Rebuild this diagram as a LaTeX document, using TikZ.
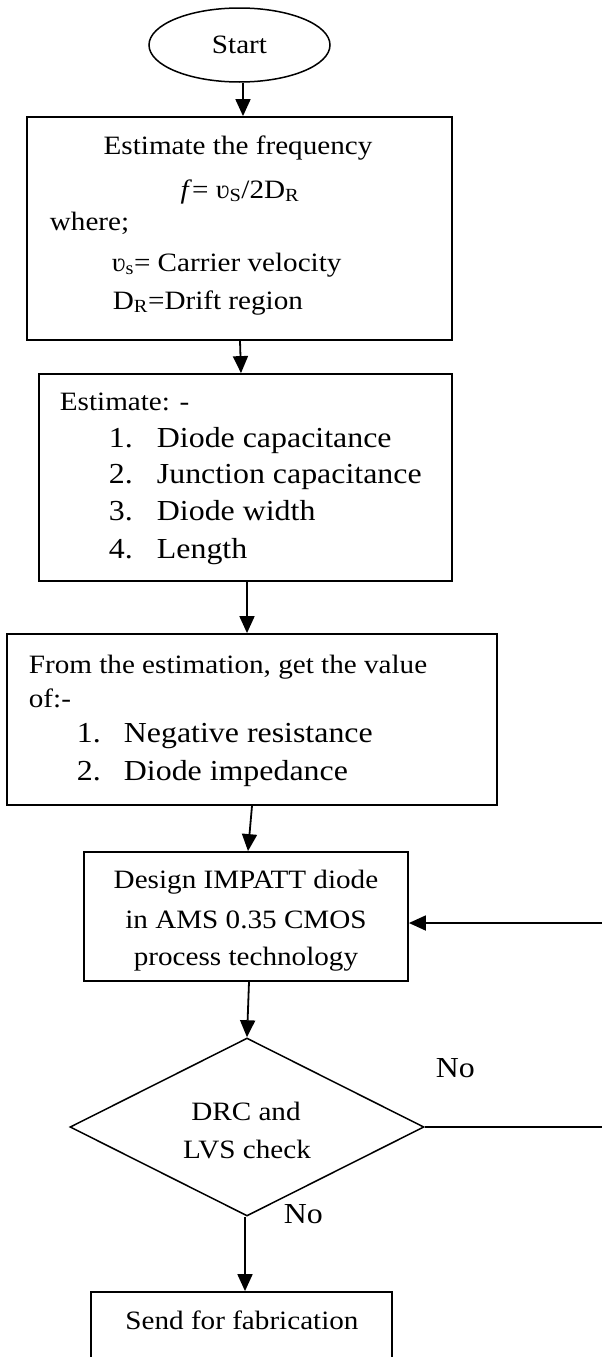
\documentclass[tikz,border=0pt]{standalone}
\usepackage{fontspec}
\setmainfont{Liberation Serif}[FakeStretch=1.10]
\usetikzlibrary{shapes.geometric,arrows.meta}
\newcommand\bodysz{\fontsize{26.5}{31}\selectfont}
\newcommand\listsz{\fontsize{29}{34}\selectfont}

\begin{document}
\begin{tikzpicture}[x=1pt,y=-1pt,
  font=\bodysz,
  line width=1.8pt,
  boxnode/.style={draw, rectangle, inner sep=0pt},
  txt/.style={inner sep=0pt, anchor=base},
  txtl/.style={inner sep=0pt, anchor=base west},
  item/.style={txtl, font=\listsz},
  arr/.style={-{Triangle[length=17pt,width=15pt]}, line width=1.8pt}]
\useasboundingbox (0,0) rectangle (602,1357);
\clip (0,0) rectangle (602,1357);

% ---- shapes ----
\node[draw, ellipse, minimum width=181pt, minimum height=74pt, inner sep=0pt, line width=1.5pt] (start) at (239.5,45) {Start};
\node[boxnode, minimum width=425pt, minimum height=223pt] (b1) at (239.5,228.5) {};
\node[boxnode, minimum width=413pt, minimum height=207pt] (b2) at (245.5,477.5) {};
\node[boxnode, minimum width=490pt, minimum height=171pt] (b3) at (252,719.5) {};
\node[boxnode, minimum width=324pt, minimum height=129pt] (b4) at (246,916.5) {};
\node[draw, diamond, minimum width=354pt, minimum height=178pt, inner sep=0pt, line width=1.5pt] (d) at (247,1127) {};
\node[boxnode, minimum width=301pt, minimum height=116pt] (b5) at (241.5,1350) {};
\coordinate (loop) at (640,1127);

% ---- texts: frequency estimate ----
\node[txt] (t11) at (238,154) {Estimate the frequency};
\node[txt] (t12) at (240,198) {\textit{f}= ʋ\textsubscript{S}/2D\textsubscript{R}};
\node[txtl] (t13) at (49,230) {where;};
\node[txtl] (t14) at (111,271) {ʋ\textsubscript{s}= Carrier velocity};
\node[txtl] (t15) at (112,309) {D\textsubscript{R}=Drift region};

% ---- texts: estimates ----
\node[txtl] (t21) at (59,410) {Estimate: -};
\node[item] (n21) at (108,447) {1.};
\node[item] (t22) at (156,447) {Diode capacitance};
\node[item] (n22) at (108,483) {2.};
\node[item] (t23) at (156,483) {Junction capacitance};
\node[item] (n23) at (108,520) {3.};
\node[item] (t24) at (156,520) {Diode width};
\node[item] (n24) at (108,558) {4.};
\node[item] (t25) at (156,558) {Length};

% ---- texts: values ----
\node[txtl] (t31) at (28,673) {From the estimation, get the value};
\node[txtl] (t32) at (28,707) {of:-};
\node[item] (n31) at (76,742) {1.};
\node[item] (t33) at (123,742) {Negative resistance};
\node[item] (n32) at (76,780) {2.};
\node[item] (t34) at (123,780) {Diode impedance};

% ---- texts: design ----
\node[txt] (t41) at (246,888) {Design IMPATT diode};
\node[txt] (t42) at (246,928) {in AMS 0.35 CMOS};
\begin{scope}
  \clip (b4.north west) rectangle (408,970);
  \node[txt] (t43) at (246,965) {process technology};
\end{scope}

% ---- texts: check and output ----
\node[txt] (t51) at (246,1120) {DRC and};
\node[txt] (t52) at (247,1158) {LVS check};
\node[item] (no1) at (435,1077) {No};
\node[item] (no2) at (283,1223) {No};
\node[txt] (t61) at (242,1329) {Send for fabrication};

% ---- connectors ----
\draw[arr] ([xshift=3.5pt]start.south) -- ([xshift=3.5pt]start.south |- b1.north);
\draw[arr] ([xshift=0.5pt]b1.south) -- ([xshift=-4.5pt]b2.north);
\draw[arr] ([xshift=1.5pt]b2.south) -- ([xshift=-5pt]b3.north);
\draw[arr] (b3.south) -- ([xshift=2pt]b4.north);
\draw[arr] ([xshift=3pt]b4.south) -- (d.north);
\draw[arr] ([xshift=-2pt]d.south) -- ([xshift=-2pt]d.south |- b5.north);
\draw[arr] (d.east) -- (loop) |- ([yshift=-6.5pt]b4.east);
\end{tikzpicture}
\end{document}
